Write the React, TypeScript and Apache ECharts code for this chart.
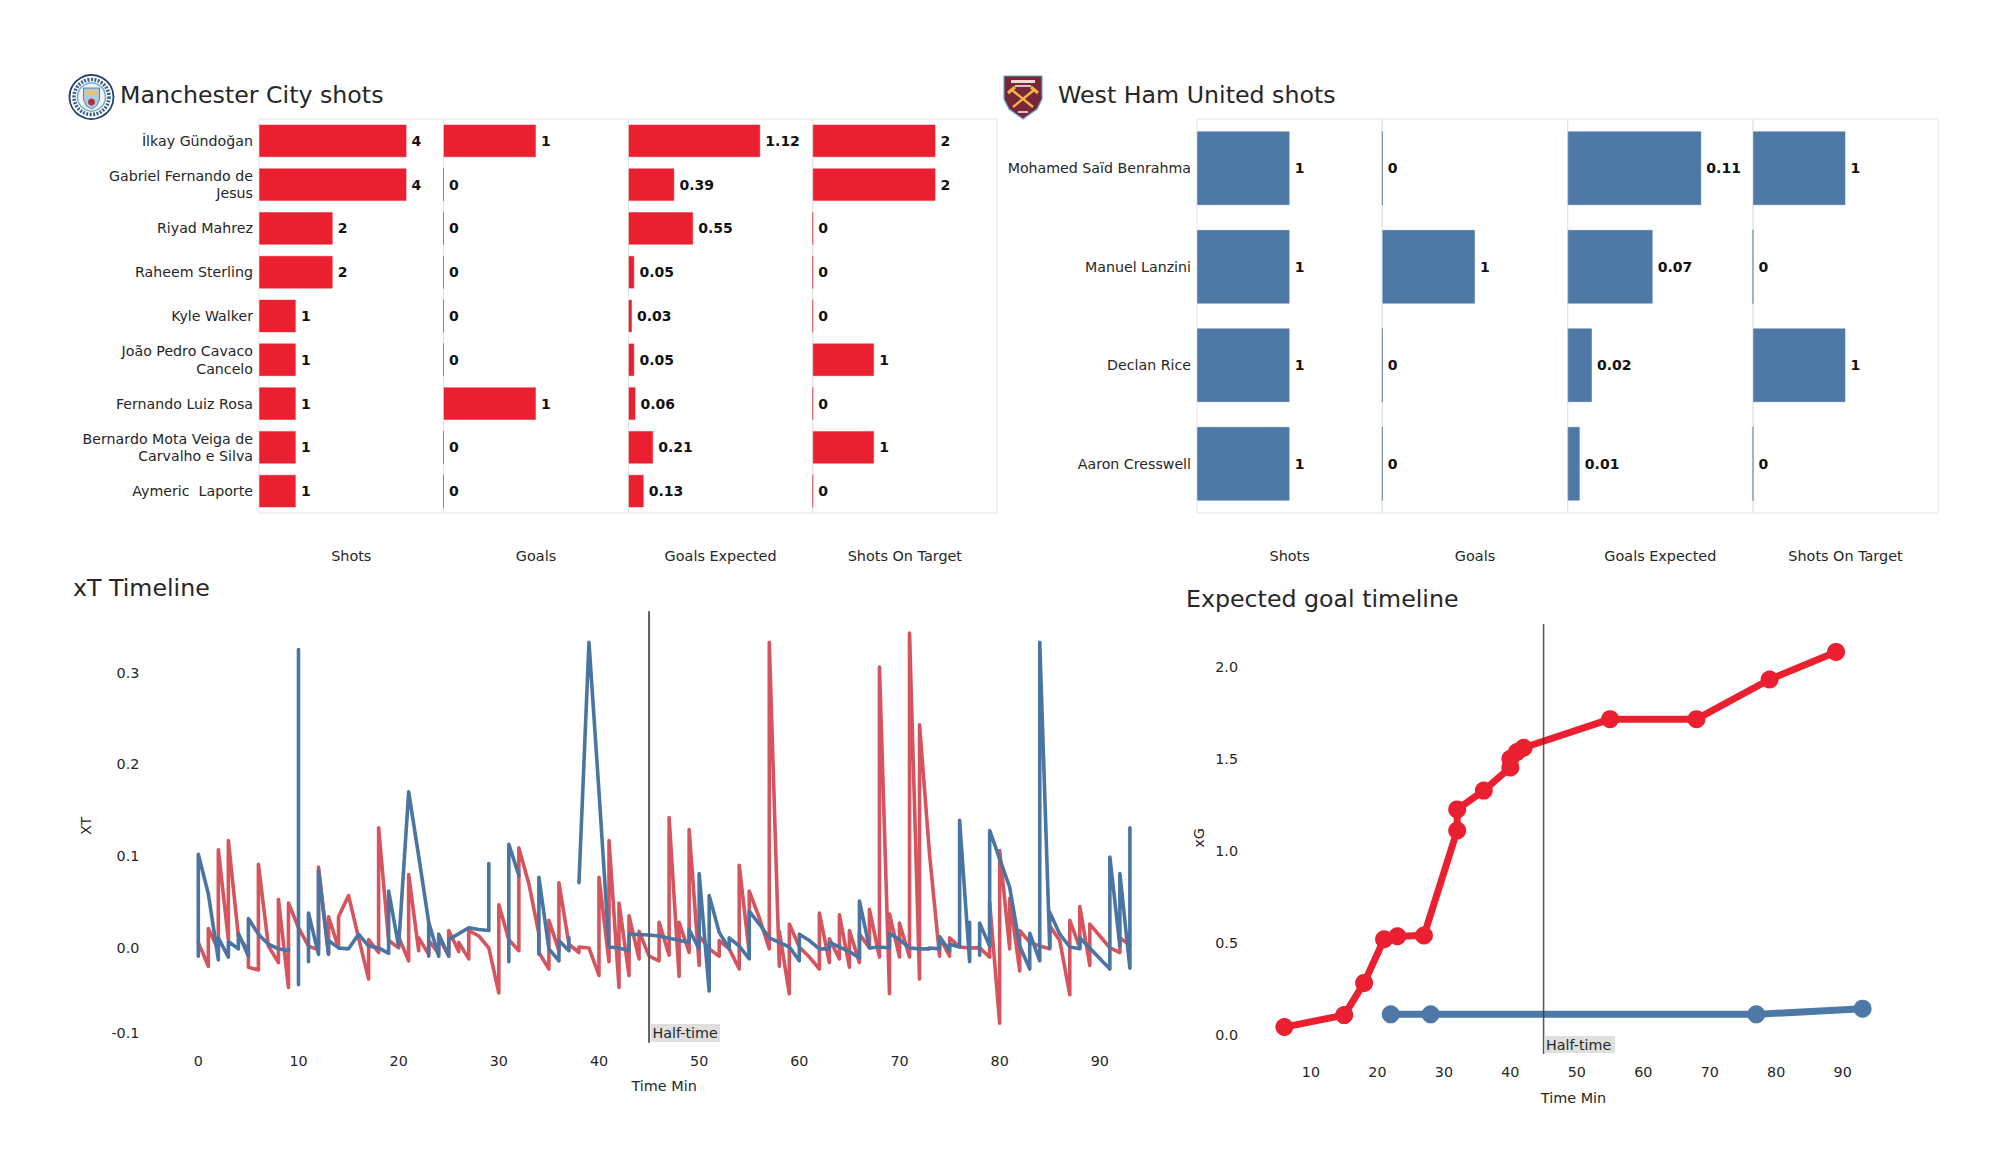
import React, { useEffect, useRef } from "react";
import * as echarts from "echarts";

const FONT = "DejaVu Sans";
const INK = "#262626";
const RED = "#ea1f2f";
const BLUE = "#4e79a7";
const RED_EDGE = "rgba(234,31,47,0.45)";
const BLUE_EDGE = "rgba(78,121,167,0.55)";
const RED_LINE = "#d6545d";
const BLUE_LINE = "#4a75a3";

const metricNames = ["Shots", "Goals", "Goals Expected", "Shots On Target"];

const cityPlayers = [
  "İlkay Gündoğan",
  "Gabriel Fernando de\nJesus",
  "Riyad Mahrez",
  "Raheem Sterling",
  "Kyle Walker",
  "João Pedro Cavaco\nCancelo",
  "Fernando Luiz Rosa",
  "Bernardo Mota Veiga de\nCarvalho e Silva",
  "Aymeric  Laporte",
];
const cityShots = [4, 4, 2, 2, 1, 1, 1, 1, 1];
const cityGoals = [1, 0, 0, 0, 0, 0, 1, 0, 0];
const cityXg = [1.12, 0.39, 0.55, 0.05, 0.03, 0.05, 0.06, 0.21, 0.13];
const cityOnTarget = [2, 2, 0, 0, 0, 1, 0, 1, 0];
const cityMax = [5, 2, 1.565, 3];

const hamPlayers = ["Mohamed Saïd Benrahma", "Manuel Lanzini", "Declan Rice", "Aaron Cresswell"];
const hamShots = [1, 1, 1, 1];
const hamGoals = [0, 1, 0, 0];
const hamXg = [0.11, 0.07, 0.02, 0.01];
const hamOnTarget = [1, 0, 1, 0];
const hamMax = [2, 2, 0.1525, 2];

const xtRed: (number | null)[][] = [
  [0, 0.006], [1, -0.02], [1, 0.021], [2, -0.002], [2, 0.107], [3, 0.009], [3, 0.117], [4, 0.013],
  [5, -0.003], [5, -0.021], [6, -0.024], [6, 0.091], [7, 0.002], [8, -0.016], [8, 0.053], [9, -0.043],
  [9, 0.049], [10, 0.022], [11, 0.002], [12, -0.002], [12, 0.088], [13, -0.006], [13, 0.034], [14, 0],
  [14, 0.034], [15, 0.057], [16, 0.011], [17, -0.034], [17, 0.009], [18, -0.005], [18, 0.131], [19, 0.008],
  [20, 0], [20, 0.012], [21, -0.014], [21, 0.08], [22, -0.003], [22, 0.011], [23, -0.007], [23, 0.008],
  [24, -0.006], [24, 0.012], [25, -0.009], [25, 0.019], [26, -0.004], [26, 0.006], [27, -0.012], [27, 0.019],
  [28, 0.013], [29, 0], [30, -0.049], [30, 0.047], [31, 0.009], [32, -0.003], [32, 0.109], [33, 0.07],
  [34, 0.015], [34, -0.005], [35, -0.023], [35, 0.03], [36, -0.003], [36, 0.071], [37, 0.004], [38, -0.005],
  [38, 0.001], [39, 0], [40, -0.03], [40, 0.077], [41, -0.015], [41, 0.117], [42, -0.043], [42, 0.049],
  [43, -0.03], [43, 0.035], [44, -0.012], [44, 0.018], [45, -0.009], [46, -0.014], [46, 0.028], [47, -0.008],
  [47, 0.142], [48, -0.031], [48, 0.028], [49, -0.005], [49, 0.129], [50, -0.019], [50, 0.013], [51, -0.001],
  [52, -0.009], [52, 0.008], [53, -0.001], [54, -0.023], [54, 0.09], [55, -0.005], [55, 0.062], [56, 0.033],
  [57, -0.001], [57, 0.333], [58, -0.02], [58, 0.018], [59, -0.05], [59, 0.026], [60, 0.001], [61, -0.01],
  [62, -0.023], [62, 0.038], [63, -0.016], [63, 0.01], [64, -0.012], [64, 0.036], [65, -0.021], [65, 0.019],
  [66, -0.016], [66, 0.015], [67, 0], [67, 0.042], [68, -0.01], [68, 0.306], [69, -0.05], [69, 0.037],
  [70, -0.01], [70, 0.027], [71, -0.01], [71, 0.343], [72, -0.034], [72, 0.243], [73, 0.102], [74, -0.009],
  [74, 0.012], [75, -0.009], [75, 0.011], [76, 0.001], [77, 0], [78, 0], [79, -0.01], [79, 0.05],
  [80, -0.082], [80, 0.106], [81, -0.001], [81, 0.054], [82, -0.025], [82, 0.019], [83, 0.006], [84, 0.002],
  [85, -0.001], [85, 0.024], [86, 0.008], [87, -0.051], [87, 0.03], [88, 0], [88, 0.045], [89, -0.019],
  [89, 0.026], [90, 0.013], [91, 0], [92, -0.005], [92, 0.011], [93, 0.003],
];

const xtBlue: (number | null)[][] = [
  [0, -0.009], [0, 0.102], [1, 0.059], [2, -0.013], [2, 0.011], [3, -0.01], [3, 0.007], [4, -0.001],
  [4, 0.016], [5, -0.009], [5, 0.032], [6, 0.015], [7, 0.004], [8, -0.001], [9, -0.003], [9, -0.001],
  [9.5, null], [10, -0.04], [10, 0.325], [10.5, null], [11, -0.015], [11, 0.038], [12, -0.007], [12, 0.084],
  [13, -0.007], [13, 0.008], [14, 0], [15, -0.001], [16, 0.015], [17, 0.002], [18, 0], [19, -0.006],
  [19, 0.062], [20, 0.002], [21, 0.17], [22, 0.1], [23, 0.028], [23, -0.009], [23, 0.028], [24, -0.009],
  [24, 0.015], [25, -0.009], [25, 0.009], [27, 0.022], [28, 0.02], [29, 0.019], [29, 0.092], [30, null],
  [31, -0.015], [31, 0.113], [32, 0.079], [33, null], [34, -0.007], [34, 0.077], [35, -0.001], [36, -0.014],
  [36, 0.008], [37, -0.003], [37, 0.011], [37.5, null], [38, 0.071], [39, 0.333], [40, 0.17], [41, 0.001],
  [42, 0], [43, -0.003], [43, 0.015], [45, 0.014], [46, 0.013], [49, 0.006], [49, 0.02], [50, -0.001],
  [50, 0.081], [51, -0.047], [51, 0.057], [52, 0.017], [53, -0.001], [53, 0.011], [54, 0.002], [55, -0.012],
  [55, 0.04], [56, 0.026], [57, 0.011], [58, 0.006], [59, 0.001], [60, -0.014], [60, 0.015], [61, 0.008],
  [62, -0.001], [63, -0.001], [63, 0.006], [64, 0.001], [65, -0.004], [66, -0.011], [66, 0.051], [67, 0],
  [68, 0.001], [69, 0], [69, 0.016], [70, 0.009], [71, 0], [72, -0.001], [73, -0.001], [73, 0],
  [74, -0.001], [74, 0.012], [75, -0.003], [75, 0.004], [76, 0.001], [76, 0.139], [77, -0.015], [77, 0.028],
  [77.5, null], [78, -0.008], [78, 0.027], [79, 0.002], [79, 0.128], [81, 0.066], [82, 0.002], [83, -0.023],
  [83, 0.016], [84, -0.014], [84, 0.333], [85, 0], [85, 0.039], [86, 0.015], [87, 0.001], [88, -0.001],
  [88, 0.011], [91, -0.023], [91, 0.099], [92, 0.002], [92, 0.081], [93, -0.022], [93, 0.131],
];

const xgRed = [
  [6, 0.043], [15, 0.108], [18, 0.283], [21, 0.52], [23, 0.536], [27, 0.54], [32, 1.11], [32, 1.225],
  [36, 1.327], [40, 1.453], [40, 1.5], [41, 1.537], [42, 1.56], [55, 1.715], [68, 1.715], [79, 1.93], [89, 2.08],
];
const xgBlue = [[22, 0.112], [28, 0.112], [77, 0.112], [93, 0.143]];

const halfTimeXt = [[45, -0.1026], [45, 0.366]];
const halfTimeXg = [[45, -0.103], [45, 2.232]];

const cityPanelEdges = [259, 443.5, 628.5, 812.7, 997];
const hamPanelEdges = [1197, 1382.3, 1567.7, 1753, 1938];

function buildOption() {
  const grid: any[] = [];
  const xAxis: any[] = [];
  const yAxis: any[] = [];
  const series: any[] = [];

  const addBars = (
    edges: number[],
    players: string[],
    table: number[][],
    maxes: number[],
    color: string,
    edge: string,
  ) => {
    table.forEach((vals, i) => {
      const g = grid.length;
      grid.push({
        left: edges[i],
        width: edges[i + 1] - edges[i],
        top: 119,
        height: 394,
        show: true,
        borderColor: "#e3e3e3",
        borderWidth: 1,
        backgroundColor: "transparent",
      });
      xAxis.push({
        gridIndex: g,
        type: "value",
        min: 0,
        max: maxes[i],
        name: metricNames[i],
        nameLocation: "middle",
        nameGap: 36,
        nameTextStyle: { fontFamily: FONT, fontSize: 14.4, color: INK },
        axisLabel: { show: false },
        axisTick: { show: false },
        axisLine: { show: false },
        splitLine: { show: false },
      });
      yAxis.push({
        gridIndex: g,
        type: "category",
        inverse: true,
        data: players,
        axisTick: { show: false },
        axisLine: { show: false },
        splitLine: { show: false },
        axisLabel: {
          show: i === 0,
          margin: 6,
          fontFamily: FONT,
          fontSize: 14.2,
          lineHeight: 17.5,
          color: INK,
          align: "right",
        },
      });
      series.push({
        type: "bar",
        xAxisIndex: g,
        yAxisIndex: g,
        data: vals,
        barCategoryGap: "25%",
        itemStyle: { color, borderColor: edge, borderWidth: 1, borderType: "solid", opacity: 1 },
        label: {
          show: true,
          position: "right",
          distance: 5,
          fontFamily: FONT,
          fontWeight: "bold",
          fontSize: 14,
          color: "#111",
        },
      });
    });
  };

  addBars(cityPanelEdges, cityPlayers, [cityShots, cityGoals, cityXg, cityOnTarget], cityMax, RED, RED_EDGE);
  addBars(hamPanelEdges, hamPlayers, [hamShots, hamGoals, hamXg, hamOnTarget], hamMax, BLUE, BLUE_EDGE);

  // xT timeline
  const gt = grid.length;
  grid.push({ left: 198.3, width: 931.6, top: 612, height: 427.7 });
  xAxis.push({
    gridIndex: gt,
    type: "value",
    min: 0,
    max: 93,
    interval: 10,
    name: "Time Min",
    nameLocation: "middle",
    nameGap: 39,
    nameTextStyle: { fontFamily: FONT, fontSize: 14.4, color: INK },
    axisLine: { show: false },
    axisTick: { show: false },
    splitLine: { show: false },
    axisLabel: {
      margin: 14,
      fontFamily: FONT,
      fontSize: 14.3,
      color: INK,
      showMaxLabel: false,
      formatter: (v: number) => (v === 93 ? "" : String(v)),
    },
  });
  yAxis.push({
    gridIndex: gt,
    type: "value",
    min: -0.1,
    max: 0.366,
    interval: 0.1,
    name: "XT",
    nameLocation: "middle",
    nameGap: 105,
    nameTextStyle: { fontFamily: FONT, fontSize: 14.4, color: INK },
    axisLine: { show: false },
    axisTick: { show: false },
    splitLine: { show: false },
    axisLabel: {
      margin: 59,
      fontFamily: FONT,
      fontSize: 14.3,
      color: INK,
      verticalAlignMinLabel: "bottom",
      showMaxLabel: false,
      formatter: (v: number) => (Math.abs(v - 0.366) < 1e-6 ? "" : v.toFixed(1)),
    },
  });
  const lineBase = (data: any, color: string, width: number) => ({
    type: "line",
    xAxisIndex: gt,
    yAxisIndex: gt,
    data,
    showSymbol: false,
    symbol: "none",
    clip: false,
    connectNulls: false,
    lineStyle: { color, width, join: "round", cap: "round" },
    itemStyle: { color },
  });
  series.push(lineBase(xtRed, RED_LINE, 3.6));
  series.push(lineBase(xtBlue, BLUE_LINE, 3.6));
  series.push({ ...lineBase(halfTimeXt, "#5c5c5c", 2), z: 5 });

  // Expected goal timeline
  const gx = grid.length;
  grid.push({ left: 1244.5, width: 658, top: 623, height: 412 });
  xAxis.push({
    gridIndex: gx,
    type: "value",
    min: 0,
    max: 99,
    interval: 10,
    name: "Time Min",
    nameLocation: "middle",
    nameGap: 56,
    nameTextStyle: { fontFamily: FONT, fontSize: 14.4, color: INK },
    axisLine: { show: false },
    axisTick: { show: false },
    splitLine: { show: false },
    axisLabel: {
      margin: 30,
      fontFamily: FONT,
      fontSize: 14.3,
      color: INK,
      showMaxLabel: false,
      formatter: (v: number) => (v === 0 || v === 99 ? "" : String(v)),
    },
  });
  yAxis.push({
    gridIndex: gx,
    type: "value",
    min: 0,
    max: 2.237,
    interval: 0.5,
    axisLine: { show: false },
    axisTick: { show: false },
    splitLine: { show: false },
    axisLabel: {
      margin: 6.5,
      fontFamily: FONT,
      fontSize: 14.3,
      color: INK,
      showMaxLabel: false,
      formatter: (v: number) => (Math.abs(v - 2.237) < 1e-6 ? "" : v.toFixed(1)),
    },
  });
  const xgLine = (data: any, color: string) => ({
    type: "line",
    xAxisIndex: gx,
    yAxisIndex: gx,
    data,
    clip: false,
    symbol: "circle",
    symbolSize: 18,
    showSymbol: true,
    showAllSymbol: true,
    lineStyle: { color, width: 7 },
    itemStyle: { color },
  });
  series.push(xgLine(xgRed, RED));
  series.push(xgLine(xgBlue, BLUE));
  series.push({
    type: "line",
    xAxisIndex: gx,
    yAxisIndex: gx,
    data: halfTimeXg,
    clip: false,
    symbol: "none",
    showSymbol: false,
    z: 5,
    lineStyle: { color: "#3a3a3a", width: 1.5, opacity: 0.85 },
  });

  const titleStyle = (text: string, x: number, y: number) => ({
    type: "text",
    x,
    y,
    silent: true,
    style: {
      text,
      fontFamily: FONT,
      fontSize: 23.7,
      fill: INK,
      textAlign: "left",
      textVerticalAlign: "middle",
    },
  });

  const halfLabel = (x: number, y: number, w: number, h: number) => [
    { type: "rect", x, y, shape: { x: 0, y: 0, width: w, height: h }, style: { fill: "#dfdfdf" }, z: 6 },
    {
      type: "text",
      x: x + 1.5,
      y: y + h / 2,
      z: 7,
      style: {
        text: "Half-time",
        fontFamily: FONT,
        fontSize: 14.3,
        fill: INK,
        textAlign: "left",
        textVerticalAlign: "middle",
      },
    },
  ];

  const cityLogo = {
    type: "group",
    x: 91.5,
    y: 97,
    children: [
      { type: "circle", shape: { cx: 0, cy: 0, r: 22 }, style: { fill: "#ffffff", stroke: "#1d3f6e", lineWidth: 1.8 } },
      { type: "circle", shape: { cx: 0, cy: 0, r: 17.5 }, style: { fill: "#ffffff", stroke: "#3d5f8c", lineWidth: 3.6, lineDash: [2, 1.4] } },
      { type: "circle", shape: { cx: 0, cy: 0, r: 14 }, style: { fill: "#f3f3ee", stroke: "#6cabdd", lineWidth: 1.5 } },
      { type: "polygon", shape: { points: [[-8, -9], [8, -9], [8, 3], [5, 9], [0, 12], [-5, 9], [-8, 3]] }, style: { fill: "#a9cbe8", stroke: "#1d3f6e", lineWidth: 0.6 } },
      { type: "polygon", shape: { points: [[-6, -2], [-5, -7], [-2, -5], [0, -8], [2, -5], [5, -7], [6, -2]] }, style: { fill: "#e9c46a" } },
      { type: "circle", shape: { cx: 0, cy: 5, r: 3.5 }, style: { fill: "#b2303a" } },
    ],
  };

  const hamLogo = {
    type: "group",
    x: 1003,
    y: 75,
    children: [
      {
        type: "polygon",
        shape: { points: [[1, 1], [39, 1], [39, 24], [34, 34], [20, 44], [6, 34], [1, 24]] },
        style: { fill: "#7a263a", stroke: "#5fa7d6", lineWidth: 1.2 },
      },
      { type: "rect", shape: { x: 8, y: 5, width: 24, height: 3 }, style: { fill: "#e8dcd2" } },
      { type: "rect", shape: { x: 12, y: 10, width: 16, height: 2 }, style: { fill: "#d9c4b8" } },
      { type: "line", shape: { x1: 9, y1: 15, x2: 30, y2: 32 }, style: { stroke: "#f3b447", lineWidth: 2.4 } },
      { type: "line", shape: { x1: 31, y1: 15, x2: 10, y2: 32 }, style: { stroke: "#f3b447", lineWidth: 2.4 } },
      { type: "line", shape: { x1: 5, y1: 18, x2: 12, y2: 12 }, style: { stroke: "#f3b447", lineWidth: 3 } },
      { type: "line", shape: { x1: 35, y1: 18, x2: 28, y2: 12 }, style: { stroke: "#f3b447", lineWidth: 3 } },
      { type: "rect", shape: { x: 15, y: 36, width: 10, height: 2 }, style: { fill: "#d9c4b8" } },
    ],
  };

  const xgName = {
    type: "text",
    x: 1199,
    y: 838,
    rotation: Math.PI / 2,
    style: {
      text: "xG",
      fontFamily: FONT,
      fontSize: 14.4,
      fill: INK,
      textAlign: "center",
      textVerticalAlign: "middle",
    },
  };

  return {
    animation: false,
    backgroundColor: "#ffffff",
    textStyle: { fontFamily: FONT },
    grid,
    xAxis,
    yAxis,
    series,
    graphic: {
      elements: [
        titleStyle("Manchester City shots", 120, 95),
        titleStyle("West Ham United shots", 1058, 95),
        titleStyle("xT Timeline", 73, 588),
        titleStyle("Expected goal timeline", 1186, 599),
        cityLogo,
        hamLogo,
        xgName,
        ...halfLabel(651, 1024, 69, 18),
        ...halfLabel(1544.5, 1036, 70.5, 17),
      ],
    },
  };
}

export default function App() {
  const ref = useRef<HTMLDivElement>(null);
  useEffect(() => {
    if (!ref.current) return;
    const chart = echarts.init(ref.current, undefined, { renderer: "svg" });
    chart.setOption(buildOption() as any);
    return () => chart.dispose();
  }, []);
  return (
    <div
      ref={ref}
      style={{ position: "absolute", left: 0, top: 0, width: 2000, height: 1175, background: "#fff" }}
    />
  );
}
